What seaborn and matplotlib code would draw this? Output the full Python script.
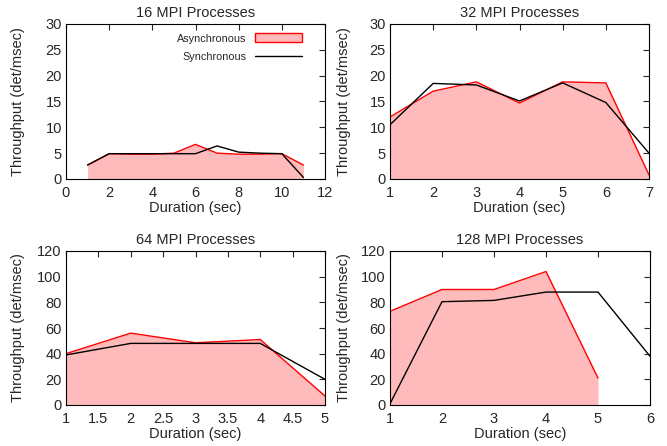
import matplotlib
matplotlib.use('Agg')
import matplotlib.pyplot as plt
import seaborn as sns
import pandas as pd
from matplotlib.patches import Patch

# 16 MPI processes
dur_16 = [1, 2, 3, 4, 5, 6, 7, 8, 9, 10, 11]
async_16 = [2.7, 4.9, 4.8, 4.8, 5.0, 6.7, 5.0, 4.8, 4.8, 4.9, 2.7]
sync_16 = [2.7, 4.9, 4.9, 4.9, 4.9, 4.9, 6.4, 5.2, 5.0, 4.9, 0.3]

# 32 MPI processes
dur_32 = [1, 2, 3, 4, 5, 6, 7]
async_32 = [12.0, 17.0, 18.8, 14.7, 18.8, 18.6, 0.8]
sync_32 = [10.5, 18.5, 18.2, 15.1, 18.6, 14.8, 5.0]

# 64 MPI processes
dur_64 = [1, 2, 3, 4, 5]
async_64 = [40, 56, 48.5, 51, 7]
sync_64 = [39, 48, 48, 48, 20]

# 128 MPI processes
dur_128_async = [1, 2, 3, 4, 5]
async_128 = [73, 90, 90, 104, 21]
dur_128_sync = [1, 2, 3, 4, 5, 6]
sync_128 = [1, 80.5, 81.5, 88, 88, 38]

panels = [
    ('16 MPI Processes', dur_16, async_16, dur_16, sync_16, (0, 12), (0, 30), [0, 2, 4, 6, 8, 10, 12], [0, 5, 10, 15, 20, 25, 30]),
    ('32 MPI Processes', dur_32, async_32, dur_32, sync_32, (1, 7), (0, 30), [1, 2, 3, 4, 5, 6, 7], [0, 5, 10, 15, 20, 25, 30]),
    ('64 MPI Processes', dur_64, async_64, dur_64, sync_64, (1, 5), (0, 120), [1, 1.5, 2, 2.5, 3, 3.5, 4, 4.5, 5], [0, 20, 40, 60, 80, 100, 120]),
    ('128 MPI Processes', dur_128_async, async_128, dur_128_sync, sync_128, (1, 6), (0, 120), [1, 2, 3, 4, 5, 6], [0, 20, 40, 60, 80, 100, 120]),
]

sns.set_style('white')
plt.rcParams['font.family'] = ['Liberation Sans', 'DejaVu Sans']
fs = 10.5

fig = plt.figure(figsize=(6.67, 4.46), dpi=100)
W, H = 667, 446
boxes = [(66, 24, 325, 179), (390, 24, 649, 179), (66, 251, 325, 405), (390, 251, 650, 405)]
ylab_x = [25, 351, 25, 351]

for i, (title, xa, ya, xs, ys, xlim, ylim, xt, yt) in enumerate(panels):
    l, t, r, b = boxes[i]
    ax = fig.add_axes([l / W, 1 - b / H, (r - l) / W, (b - t) / H])
    ax.fill_between(xa, ya, 0, color='#ffbbbb', lw=0)
    df_a = pd.DataFrame({'x': xa, 'y': ya})
    df_s = pd.DataFrame({'x': xs, 'y': ys})
    sns.lineplot(data=df_a, x='x', y='y', ax=ax, color='#ff0000', lw=1)
    sns.lineplot(data=df_s, x='x', y='y', ax=ax, color='black', lw=1)
    ax.set_xlim(*xlim)
    ax.set_ylim(*ylim)
    ax.set_xticks(xt)
    ax.set_xticklabels([f'{v:g}' for v in xt])
    ax.set_yticks(yt)
    ax.tick_params(direction='in', top=True, right=True, length=4, width=0.8, labelsize=fs)
    ax.tick_params(axis='x', pad=5)
    ax.tick_params(axis='y', pad=3)
    for s in ax.spines.values():
        s.set_color('black')
        s.set_linewidth(0.8)
    ax.set_title(title, fontsize=fs, pad=5)
    ax.set_ylabel('Throughput (det/msec)', fontsize=fs)
    ax.yaxis.set_label_coords((ylab_x[i] - l) / (r - l), 0.5)
    ax.set_xlabel('Duration (sec)', fontsize=fs, labelpad=1)
    if i == 0:
        handles = [Patch(facecolor='#ffbbbb', edgecolor='#ff0000', lw=1),
                   plt.Line2D([], [], color='black', lw=1)]
        ax.legend(handles, ['Asynchronous', 'Synchronous'], loc='upper right', frameon=False,
                  bbox_to_anchor=(0.925, 0.96), borderaxespad=0, borderpad=0.3,
                  markerfirst=False, fontsize=7.8, handlelength=4.4, handleheight=0.9,
                  handletextpad=0.8, labelspacing=0.75)

fig.savefig('out.png', dpi=100)
